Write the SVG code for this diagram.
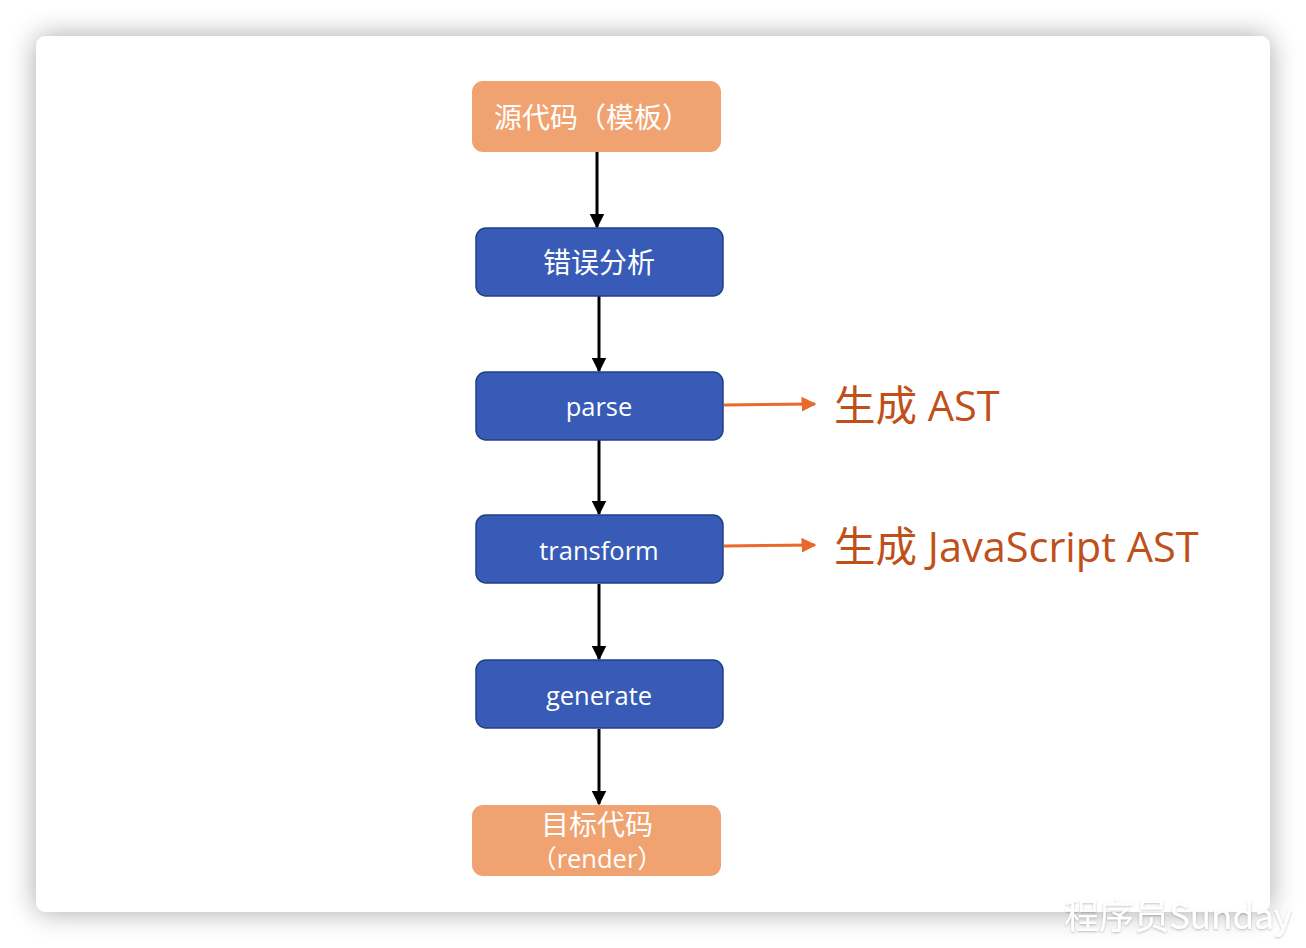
<svg xmlns="http://www.w3.org/2000/svg" width="1306" height="948" viewBox="0 0 1306 948">
<defs>
<filter id="sh" x="-10%" y="-10%" width="120%" height="120%">
<feGaussianBlur in="SourceAlpha" stdDeviation="14"/>
<feComponentTransfer><feFuncA type="linear" slope="0.35"/></feComponentTransfer>
<feMerge><feMergeNode/><feMergeNode in="SourceGraphic"/></feMerge>
</filter>
<filter id="ws" x="-10%" y="-30%" width="120%" height="160%">
<feDropShadow dx="0" dy="1" stdDeviation="1" flood-color="#000" flood-opacity="0.25"/>
</filter>
<marker id="ab" viewBox="0 0 10 10" refX="9" refY="5" markerWidth="5" markerHeight="5" orient="auto" markerUnits="strokeWidth">
<path d="M0,0 L10,5 L0,10 z" fill="#000"/>
</marker>
<marker id="ao" viewBox="0 0 10 10" refX="9" refY="5" markerWidth="5" markerHeight="5" orient="auto" markerUnits="strokeWidth">
<path d="M0,0 L10,5 L0,10 z" fill="#E8692A"/>
</marker>
</defs>
<style>
.org{fill:#F0A370;}
.blu{fill:#375BB6;stroke:#223F86;stroke-width:1.5;}
.t{font-family:"Open Sans","Noto Sans CJK SC",sans-serif;fill:#fff;font-size:25.5px;text-anchor:middle;}
.c{font-size:28px;}
.lbl{font-family:"Open Sans","Noto Sans CJK SC",sans-serif;fill:#C0501A;font-size:41.5px;}
.bk{stroke:#000;stroke-width:3;fill:none;marker-end:url(#ab);}
.or{stroke:#E8692A;stroke-width:3;fill:none;marker-end:url(#ao);}
</style>
<rect width="1306" height="948" fill="#fff"/>
<rect x="36" y="36" width="1234" height="876" rx="10" fill="#fff" filter="url(#sh)"/>
<g id="connectors">
<line class="bk" x1="597" y1="152" x2="597" y2="227"/>
<line class="bk" x1="599" y1="296" x2="599" y2="371"/>
<line class="bk" x1="599" y1="440" x2="599" y2="514"/>
<line class="bk" x1="599" y1="584" x2="599" y2="659"/>
<line class="bk" x1="599" y1="729" x2="599" y2="804"/>
<line class="or" x1="724" y1="405" x2="815" y2="404"/>
<line class="or" x1="724" y1="546" x2="815" y2="545"/>
</g>
<g id="n-source">
<rect class="org" x="472" y="81" width="249" height="71" rx="11"/>
<text class="t c" x="592" y="128">源代码（模板）</text>
</g>
<g id="n-error">
<rect class="blu" x="476" y="228" width="247" height="68" rx="10"/>
<text class="t c" x="599" y="273">错误分析</text>
</g>
<g id="n-parse">
<rect class="blu" x="476" y="372" width="247" height="68" rx="10"/>
<text class="t" x="599" y="416">parse</text>
</g>
<g id="n-transform">
<rect class="blu" x="476" y="515" width="247" height="68" rx="10"/>
<text class="t" x="599" y="560">transform</text>
</g>
<g id="n-generate">
<rect class="blu" x="476" y="660" width="247" height="68" rx="10"/>
<text class="t" x="599" y="705">generate</text>
</g>
<g id="n-target">
<rect class="org" x="472" y="805" width="249" height="71" rx="11"/>
<text class="t c" x="597" y="835">目标代码</text>
<text class="t" x="597" y="868">（render）</text>
</g>
<g id="label-ast">
<text class="lbl" x="834" y="421">生成 AST</text>
</g>
<g id="label-jsast">
<text class="lbl" x="834" y="562">生成 JavaScript AST</text>
</g>
<text x="1064" y="929" font-family="'Noto Sans CJK SC',sans-serif" font-size="35" fill="#fff" filter="url(#ws)">程序员Sunday</text>
</svg>
